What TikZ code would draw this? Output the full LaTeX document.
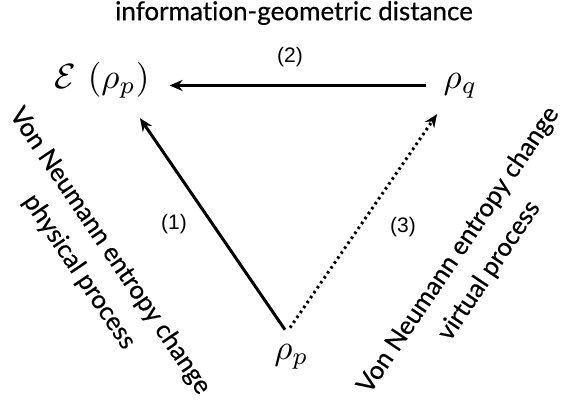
\documentclass[tikz,border=0pt]{standalone}
\usepackage{fontspec}
\setmainfont{Lato}[Ligatures={NoCommon}, FakeBold=0.4]
\newfontfamily\numfont{Liberation Sans}
\usetikzlibrary{arrows.meta}
\newcommand{\bigmath}[1]{\scalebox{3.5}{$#1$}}
\tikzset{
  mathnode/.style={inner sep=0pt, anchor=base},
  txt/.style={inner sep=0pt, font=\fontsize{25.5}{37}\selectfont, align=center},
  numlbl/.style={inner sep=0pt, font=\numfont\fontsize{21}{24}\selectfont},
  arr/.style={line width=3pt, -{Stealth[length=13pt,width=11pt]}},
  dotarr/.style={line width=3pt, dash pattern=on 2.5pt off 3.5pt, -{Stealth[length=13pt,width=11pt]}}
}
\begin{document}
\begin{tikzpicture}[x=1pt,y=-1pt]
\useasboundingbox (0,0) rectangle (570,405);
\node[txt, font=\fontsize{26}{30}\selectfont] (title) at (294,13) {information-geometric distance};
\node[numlbl] (l2) at (290,57) {(2)};
\node[numlbl] (l1) at (174,224) {(1)};
\node[numlbl] (l3) at (403,227) {(3)};
\node[mathnode] (eps) at (102,88) {\bigmath{\mathcal{E}\,\left(\rho_p\right)}};
\node[mathnode] (rq) at (460.5,88) {\bigmath{\rho_q}};
\node[mathnode] (rp) at (291.5,359) {\bigmath{\rho_p}};
\node[txt, rotate=-56] (lt) at (94.5,261.5) {Von Neumann entropy change\\physical process};
\node[txt, rotate=56] (rt) at (474,260.5) {Von Neumann entropy change\\virtual process};
\draw[arr, shorten <=18pt, shorten >=20pt] (rq.west) -- (eps.east |- rq.west);
\draw[arr] ([xshift=-6.5pt,yshift=14pt]rp.north) -- ([xshift=38pt,yshift=-20pt]eps.south);
\draw[dotarr] ([xshift=-1.5pt,yshift=16pt]rp.north) -- ([xshift=-23.5pt,yshift=-16pt]rq.south);
\end{tikzpicture}
\end{document}
